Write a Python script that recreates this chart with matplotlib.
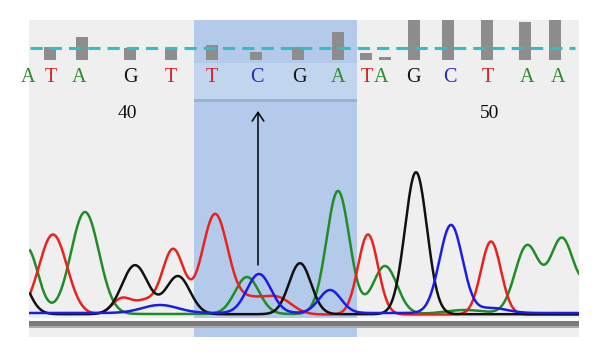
import numpy as np
import matplotlib
matplotlib.use("Agg")
import matplotlib.pyplot as plt
from matplotlib.patches import Rectangle

# ---------------- data ----------------
# called bases (sequence positions 37..52) and their scan positions
bases = list("ATAGTTCGATAGCTAA")
base_scan = [28, 51, 79, 130, 171, 212, 257, 299, 338, 367, 381, 413, 450, 488, 527, 558]
# quality bars (scan position, quality value); first base has no bar
qual_scan = [50, 82, 130, 171, 212, 256, 298, 338, 366, 385, 414, 448, 487, 525, 555]
qual_vals = [13, 23, 12, 12, 15, 8, 13, 28, 7, 3, 45, 45, 45, 38, 45]
qual_threshold = 267
# position labels
pos_labels = ["40", "50"]
pos_scan = [127, 490]

# trace peaks per channel: scan position, height, width
A_pos = [27, 85, 247, 338, 385, 465, 527, 562, 598]
A_hgt = [66, 102, 37, 123, 48, 4, 68, 75, 45]
A_wid = [11, 14, 12, 11.5, 12, 20, 12, 12, 12]

T_pos = [53, 122, 145, 173, 215, 250, 278, 368, 491]
T_hgt = [80, 16, 12, 65, 100, 14, 16, 80, 73]
T_wid = [14, 10, 10, 11, 13, 14, 14, 10, 10]

G_pos = [15, 135, 178, 300, 416]
G_hgt = [45, 49, 38, 51, 142]
G_wid = [12, 13, 12, 11, 11]

C_pos = [160, 259, 330, 451, 492]
C_hgt = [8, 39, 23, 88, 5]
C_wid = [18, 12, 11, 11.5, 15]

# highlighted region (scan units)
hl_start, hl_end = 194, 357
arrow_scan = 258

# ---------------- style ----------------
col_A = "#1f8c25"
col_T = "#e8221f"
col_G = "#111111"
col_C = "#1c1ce6"
letter_cols = {"A": "#2a8a2a", "T": "#dd1f1f", "G": "#111111", "C": "#2323c8"}

fig = plt.figure(figsize=(6, 3.58), dpi=100)
ax = fig.add_axes([29 / 600, 21 / 358, 550 / 600, 317 / 358])
ax.set_xlim(29, 579)
ax.set_ylim(-22, 295)
ax.set_facecolor("#efefef")
for s in ax.spines.values():
    s.set_visible(False)
ax.set_xticks([])
ax.set_yticks([])

# highlight
ax.axvspan(hl_start, hl_end, color="#b3caeb", zorder=0, lw=0)
ax.add_patch(Rectangle((hl_start, 215), hl_end - hl_start, 37, color="#c1d5ef", lw=0, zorder=0.5))
ax.add_patch(Rectangle((hl_start, 213.5), hl_end - hl_start, 3, color="#9ab1d3", lw=0, zorder=0.6))

# baseline bar
ax.add_patch(Rectangle((29, -5.5), 550, 3, color="#fafafa", lw=0, zorder=1))
ax.add_patch(Rectangle((29, -11.5), 550, 6, color="#7a7a7a", lw=0, zorder=1))
ax.add_patch(Rectangle((29, -12.5), 550, 1.2, color="#a8a8a8", lw=0, zorder=1))

# quality bars
qb = qual_threshold - 12
ax.bar(qual_scan, qual_vals, bottom=qb, width=12, color="#8d8d8d", zorder=2)
ax.plot([30, 575], [qual_threshold, qual_threshold], color="#2ec0c6", lw=2.2,
        dashes=(4.0, 2.3), zorder=3, solid_capstyle="butt", dash_capstyle="butt")

# base letters
for b, x in zip(bases, base_scan):
    ax.text(x, 238, b, color=letter_cols[b], fontsize=14.5, family="Liberation Serif",
            ha="center", va="center", zorder=4)
for t, x in zip(pos_labels, pos_scan):
    ax.text(x, 202, t, color="#111111", fontsize=14, family="Liberation Serif",
            ha="center", va="center", zorder=4)

# traces
xs = np.arange(30, 579.01, 0.5)


def trace(pos, hgt, wid, base):
    y = np.full_like(xs, base, dtype=float)
    for p, h, w in zip(pos, hgt, wid):
        y += h * np.exp(-((xs - p) ** 2) / (2 * w * w))
    return y


lw = 1.8
ax.plot(xs, trace(A_pos, A_hgt, A_wid, 1.0), color=col_A, lw=lw, zorder=5)
ax.plot(xs, trace(T_pos, T_hgt, T_wid, 0.5), color=col_T, lw=lw, zorder=5)
ax.plot(xs, trace(G_pos, G_hgt, G_wid, 0.8), color=col_G, lw=lw, zorder=5)
ax.plot(xs, trace(C_pos, C_hgt, C_wid, 2.0), color=col_C, lw=lw, zorder=5)

# arrow
ax.annotate("", xy=(arrow_scan, 204), xytext=(arrow_scan, 50),
            arrowprops=dict(arrowstyle="->,head_length=0.45,head_width=0.3", lw=1.1,
                            color="black", shrinkA=0, shrinkB=0, mutation_scale=14),
            zorder=6)

fig.savefig("out.png", dpi=100)
